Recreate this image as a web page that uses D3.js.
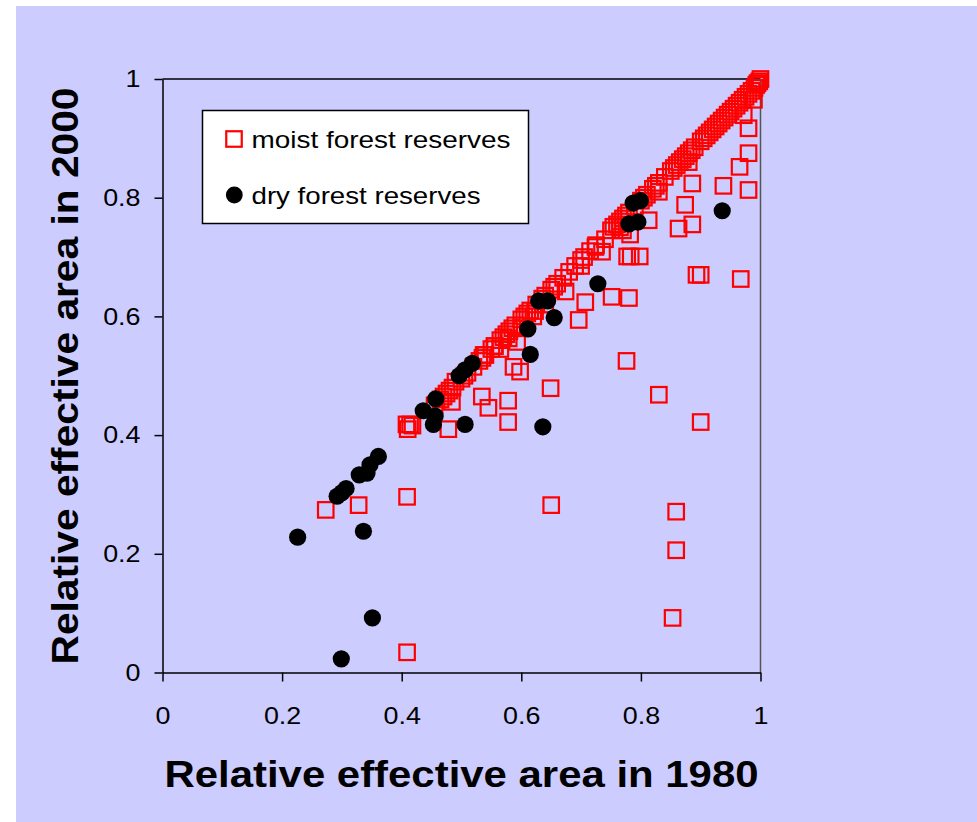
<!DOCTYPE html>
<html>
<head>
<meta charset="utf-8">
<script src="https://cdn.jsdelivr.net/npm/d3@7"></script>
<style>
    body { margin: 0; background: #fff; }
    text { font-family: "Liberation Sans", Arial, sans-serif; }
</style>
</head>
<body>
<svg id="chart" width="977" height="822"></svg>
<script>
// values
const moistX = [
    0.409, 0.853, 0.859, 0.859, 0.650, 0.409, 0.328, 0.273, 0.776, 0.830,
    0.900, 0.578, 0.578, 0.534, 0.545, 0.478, 0.414, 0.408, 0.649, 0.587,
    0.598, 0.579, 0.593, 0.556, 0.537, 0.696, 0.707, 0.751, 0.780, 0.674,
    0.623, 0.724, 0.735, 0.777, 0.783, 0.798, 0.782, 0.813, 0.863, 0.886,
    0.874, 0.886, 0.893, 0.900, 0.967, 0.938, 0.980, 0.965, 0.980, 0.980,
    0.972, 0.989, 0.484,
    0.410, 0.418, 0.455, 0.465, 0.470, 0.475, 0.480, 0.485, 0.490, 0.500,
    0.505, 0.510, 0.520, 0.530, 0.535, 0.540, 0.550, 0.555, 0.565, 0.570,
    0.575, 0.580, 0.585, 0.590, 0.600, 0.605, 0.610, 0.615, 0.625, 0.635,
    0.640, 0.650, 0.655, 0.660, 0.670, 0.680, 0.690, 0.700, 0.705, 0.715,
    0.725, 0.740, 0.750, 0.760, 0.765, 0.770, 0.775, 0.780, 0.790, 0.800,
    0.805, 0.810, 0.820, 0.825, 0.830, 0.840, 0.850, 0.855, 0.860, 0.865,
    0.870, 0.875, 0.880, 0.885, 0.890, 0.900, 0.905, 0.910, 0.915, 0.920,
    0.925, 0.930, 0.935, 0.940, 0.945, 0.950, 0.955, 0.960, 0.965, 0.970,
    0.975, 0.980, 0.985, 0.990, 0.993, 0.995, 0.998, 1.000, 0.600, 0.620,
    0.754, 0.765, 0.770, 0.565, 0.640, 0.700, 0.830, 0.880
];
const moistY = [
    0.034, 0.092, 0.206, 0.271, 0.282, 0.296, 0.282, 0.274, 0.525, 0.468,
    0.422, 0.458, 0.422, 0.465, 0.446, 0.410, 0.418, 0.418, 0.479, 0.515,
    0.507, 0.563, 0.557, 0.550, 0.535, 0.594, 0.624, 0.633, 0.631, 0.642,
    0.609, 0.717, 0.709, 0.701, 0.701, 0.701, 0.738, 0.762, 0.748, 0.755,
    0.788, 0.824, 0.670, 0.670, 0.663, 0.820, 0.813, 0.852, 0.875, 0.917,
    0.939, 0.965, 0.456,
    0.410, 0.416, 0.450, 0.460, 0.465, 0.470, 0.475, 0.480, 0.490, 0.495,
    0.500, 0.505, 0.515, 0.525, 0.530, 0.535, 0.545, 0.550, 0.560, 0.565,
    0.570, 0.575, 0.580, 0.585, 0.595, 0.600, 0.605, 0.610, 0.620, 0.630,
    0.635, 0.645, 0.650, 0.655, 0.665, 0.675, 0.685, 0.695, 0.700, 0.710,
    0.720, 0.730, 0.745, 0.755, 0.760, 0.765, 0.770, 0.775, 0.785, 0.795,
    0.800, 0.805, 0.815, 0.820, 0.825, 0.835, 0.845, 0.850, 0.855, 0.860,
    0.865, 0.870, 0.875, 0.880, 0.885, 0.895, 0.900, 0.905, 0.910, 0.915,
    0.920, 0.925, 0.930, 0.935, 0.940, 0.945, 0.950, 0.955, 0.960, 0.965,
    0.970, 0.975, 0.980, 0.985, 0.990, 0.993, 0.996, 1.000, 0.580, 0.600,
    0.751, 0.750, 0.745, 0.545, 0.620, 0.685, 0.810, 0.860
];
const dryX = [
    0.226, 0.336, 0.299, 0.351, 0.292, 0.300, 0.307, 0.329, 0.342, 0.347,
    0.361, 0.436, 0.457, 0.456, 0.453, 0.506, 0.636, 0.496, 0.506, 0.518,
    0.615, 0.611, 0.629, 0.644, 0.655, 0.728, 0.780, 0.795, 0.787, 0.799,
    0.936
];
const dryY = [
    0.228, 0.238, 0.023, 0.092, 0.297, 0.303, 0.310, 0.333, 0.336, 0.350,
    0.364, 0.441, 0.461, 0.432, 0.418, 0.418, 0.414, 0.500, 0.510, 0.521,
    0.536, 0.579, 0.626, 0.626, 0.598, 0.655, 0.756, 0.759, 0.791, 0.795,
    0.778
];
const tickValues = [0, 0.2, 0.4, 0.6, 0.8, 1];
const tickLabels = ['0', '0.2', '0.4', '0.6', '0.8', '1'];
const seriesNames = ['moist forest reserves', 'dry forest reserves'];
const xTitle = 'Relative effective area in 1980';
const yTitle = 'Relative effective area in 2000';

const moist = moistX.map((d, i) => ({x: d, y: moistY[i]}));
const dry = dryX.map((d, i) => ({x: d, y: dryY[i]}));

const svg = d3.select('#chart');
const SQ = 15.5;

// stretch text horizontally, the source rendering is a bit wide
function stretch(sel, k) {
    sel.each(function () {
        const len = this.getComputedTextLength();
        d3.select(this)
            .attr('textLength', len * k)
            .attr('lengthAdjust', 'spacingAndGlyphs');
    });
}

svg.append('rect')
    .attr('x', 16).attr('y', 6)
    .attr('width', 961).attr('height', 816)
    .attr('fill', '#ccccff');

const x = d3.scaleLinear().domain([0, 1]).range([162.5, 760.5]);
const y = d3.scaleLinear().domain([0, 1]).range([672.5, 79]);

// frame top / right
svg.append('line')
    .attr('x1', x(0)).attr('x2', x(1))
    .attr('y1', y(1)).attr('y2', y(1))
    .attr('stroke', '#000').attr('stroke-width', 1.5);
svg.append('line')
    .attr('x1', x(1)).attr('x2', x(1))
    .attr('y1', y(1)).attr('y2', y(0))
    .attr('stroke', '#555').attr('stroke-width', 1.5);

const xAxis = svg.append('g')
    .attr('transform', `translate(0,${y(0)})`)
    .call(d3.axisBottom(x)
        .tickValues(tickValues)
        .tickFormat((d, i) => tickLabels[i])
        .tickSize(9).tickSizeOuter(0).tickPadding(25));

const yAxis = svg.append('g')
    .attr('transform', `translate(${x(0)},0)`)
    .call(d3.axisLeft(y)
        .tickValues(tickValues)
        .tickFormat((d, i) => tickLabels[i])
        .tickSize(8).tickSizeOuter(0).tickPadding(14));

[xAxis, yAxis].forEach(function (g) {
    g.selectAll('path, line').attr('stroke', '#000').attr('stroke-width', 1.5);
    g.selectAll('text')
        .attr('fill', '#000')
        .style('font-size', '24px');
});
stretch(xAxis.selectAll('text'), 1.12);
stretch(yAxis.selectAll('text'), 1.12);

// markers
svg.append('g')
    .selectAll('rect')
    .data(moist)
    .join('rect')
    .attr('x', d => x(d.x) - SQ / 2)
    .attr('y', d => y(d.y) - SQ / 2)
    .attr('width', SQ).attr('height', SQ)
    .attr('fill', 'none')
    .attr('stroke', '#ff0000')
    .attr('stroke-width', 2.2);

svg.append('g')
    .selectAll('circle')
    .data(dry)
    .join('circle')
    .attr('cx', d => x(d.x))
    .attr('cy', d => y(d.y))
    .attr('r', 8.6)
    .attr('fill', '#000');

// legend
const legend = svg.append('g');
legend.append('rect')
    .attr('x', 202.5).attr('y', 110.5)
    .attr('width', 326).attr('height', 113)
    .attr('fill', '#fff')
    .attr('stroke', '#000').attr('stroke-width', 1.5);
legend.append('rect')
    .attr('x', 234 - SQ / 2).attr('y', 139 - SQ / 2)
    .attr('width', SQ).attr('height', SQ)
    .attr('fill', 'none')
    .attr('stroke', '#ff0000').attr('stroke-width', 2.2);
legend.append('circle')
    .attr('cx', 234.3).attr('cy', 195)
    .attr('r', 8.4)
    .attr('fill', '#000');
legend.selectAll('text.item')
    .data(seriesNames)
    .join('text')
    .attr('class', 'item')
    .attr('x', 251.5)
    .attr('y', (d, i) => i === 0 ? 148 : 203.5)
    .attr('textLength', (d, i) => i === 0 ? 259 : 229)
    .attr('lengthAdjust', 'spacingAndGlyphs')
    .style('font-size', '24px')
    .text(d => d);

// axis titles
svg.append('text')
    .attr('x', 461.5).attr('y', 787)
    .attr('text-anchor', 'middle')
    .attr('textLength', 594)
    .attr('lengthAdjust', 'spacingAndGlyphs')
    .style('font-size', '37px')
    .style('font-weight', 'bold')
    .text(xTitle);

svg.append('text')
    .attr('transform', 'translate(78,376) rotate(-90)')
    .attr('text-anchor', 'middle')
    .attr('textLength', 577)
    .attr('lengthAdjust', 'spacingAndGlyphs')
    .style('font-size', '37px')
    .style('font-weight', 'bold')
    .text(yTitle);
</script>
</body>
</html>
